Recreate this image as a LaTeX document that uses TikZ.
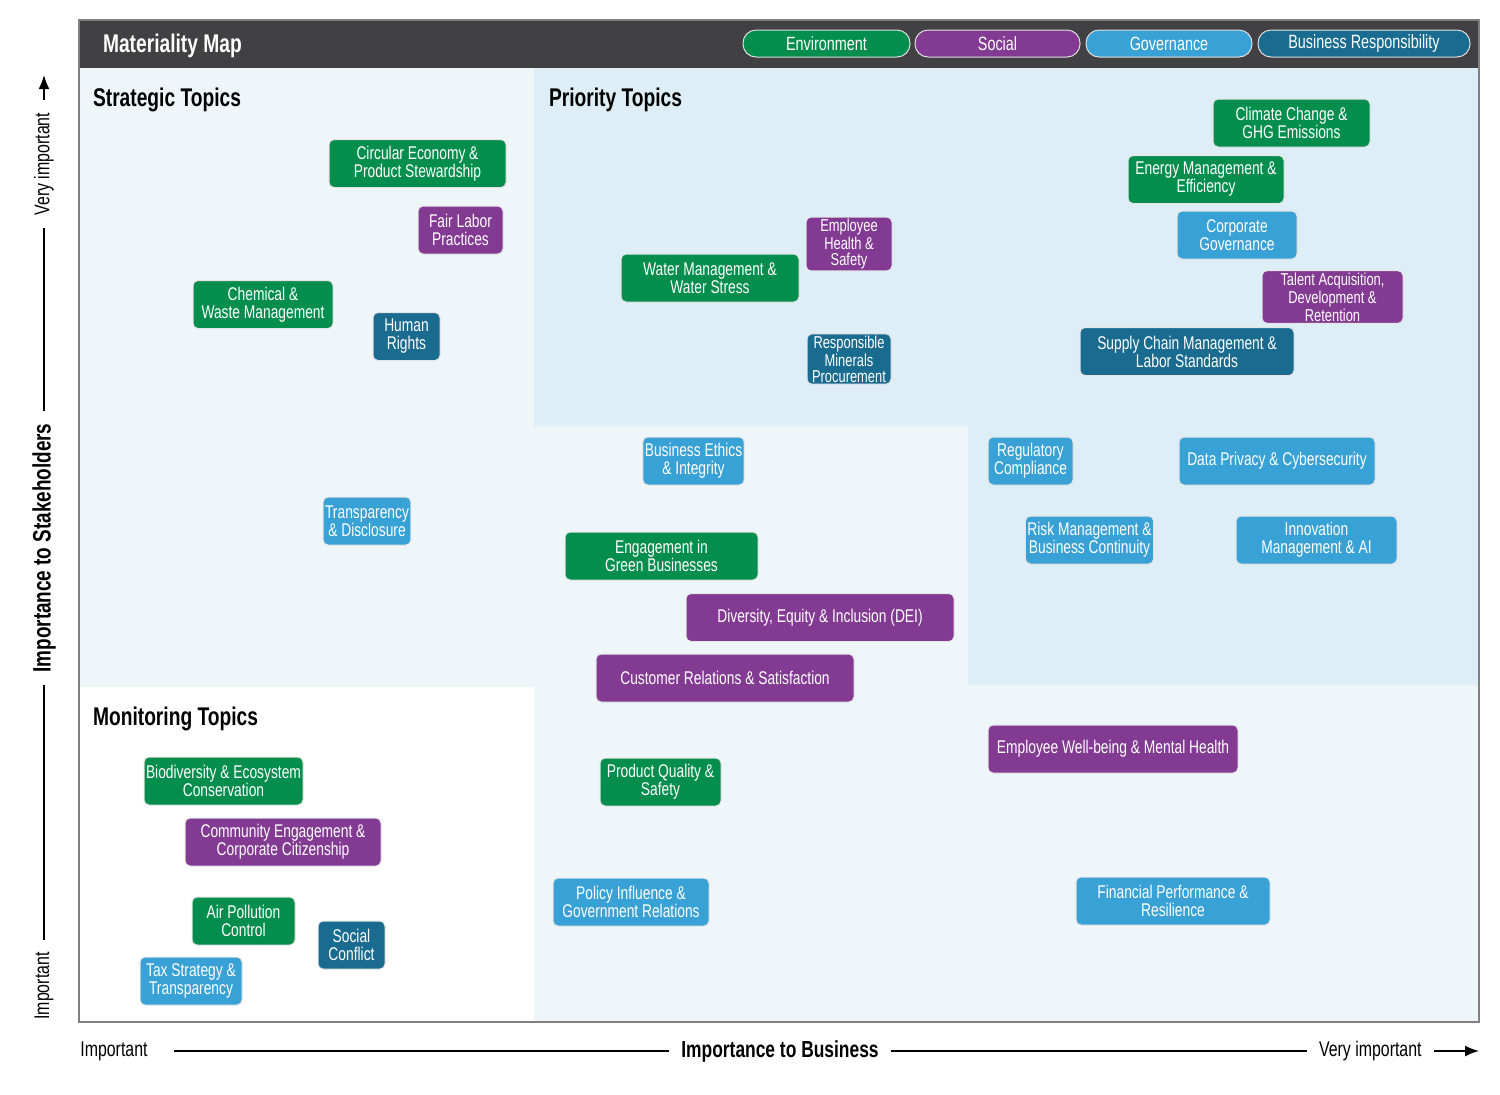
\documentclass[tikz,border=0pt]{standalone}
\usepackage{fontspec}
\setmainfont{Liberation Sans}[FakeStretch=0.75]
\usetikzlibrary{arrows.meta,positioning}
\definecolor{envgreen}{RGB}{3,142,78}
\definecolor{socpurple}{RGB}{131,58,146}
\definecolor{govblue}{RGB}{56,161,213}
\definecolor{busteal}{RGB}{25,107,143}
\definecolor{headgray}{RGB}{65,64,66}
\definecolor{paleblue}{RGB}{238,246,250}
\definecolor{softblue}{RGB}{221,238,246}

\begin{document}
\begin{tikzpicture}[x=0.5pt,y=-0.5pt,
  topic/.style={draw=white!80!gray,line width=0.5pt,rounded corners=2.5pt,text=white,align=center,minimum height=24pt,inner sep=1pt,font=\fontsize{9.2}{9}\selectfont},
  tight/.style={font=\fontsize{8.6}{7.9}\selectfont},
  env/.style={topic,fill=envgreen},
  soc/.style={topic,fill=socpurple},
  gov/.style={topic,fill=govblue},
  bus/.style={topic,fill=busteal},
  pill/.style={draw=white!75!gray,line width=0.5pt,rounded corners=6.5pt,text=white,minimum height=13.5pt,inner sep=1pt,font=\fontsize{9.6}{9.6}\selectfont},
  heading/.style={anchor=west,font=\bfseries\fontsize{12.8}{12.8}\selectfont},
  axislbl/.style={font=\fontsize{10.6}{10.6}\selectfont,inner xsep=6pt},
  >={Latex[length=7pt,width=5.5pt]}]
\useasboundingbox (0,0) rectangle (1500,1094);

% quadrants
\fill[paleblue] (79,68) rectangle (1479,1022);
\fill[white] (79,687) rectangle (534,1022);
\fill[softblue] (534,68) -- (1479,68) -- (1479,685) -- (968,685) -- (968,426) -- (534,426) -- cycle;
\fill[headgray] (79,20) rectangle (1479,68);
\draw[gray,line width=0.6pt] (79,20) rectangle (1479,1022);

% header and legend
\node[heading,text=white] (title) at (96,46) {Materiality Map};
\node[pill,fill=envgreen,minimum width=83.5pt] (lgenv) at (826.5,43.5) {Environment};
\node[pill,fill=socpurple,minimum width=82.5pt] (lgsoc) at (997.5,43.5) {Social};
\node[pill,fill=govblue,minimum width=83pt] (lggov) at (1169,43.5) {Governance};
\node[pill,fill=busteal,minimum width=106pt] (lgbus) at (1364,43.5) {Business Responsibility};

\node[heading] (strat) at (86,100) {Strategic Topics};
\node[heading] (prio) at (542,100) {Priority Topics};
\node[heading] (monit) at (86,719) {Monitoring Topics};

% strategic
\node[env,minimum width=88.5pt] (circ) at (417.5,163.5) {Circular Economy \&\\Product Stewardship};
\node[soc,minimum width=42.5pt] (fair) at (460.5,230) {Fair Labor\\Practices};
\node[env,minimum width=70pt] (chem) at (263,304.5) {Chemical \&\\Waste Management};
\node[bus,minimum width=33.5pt] (hr) at (406.5,336.5) {Human\\Rights};
\node[gov,minimum width=42pt] (transp) at (367,521) {Transparency\\\& Disclosure};

% priority
\node[env,minimum width=78.5pt] (climate) at (1291.5,123) {Climate Change \&\\GHG Emissions};
\node[env,minimum width=78pt] (energy) at (1206,179.5) {Energy Management \&\\Efficiency};
\node[gov,minimum width=60pt] (corpgov) at (1237,235) {Corporate\\Governance};
\node[soc,tight,minimum width=43pt] (ehs) at (849,244) {Employee\\Health \&\\Safety};
\node[env,minimum width=89pt] (water) at (710,278) {Water Management \&\\Water Stress};
\node[soc,tight,minimum width=70.5pt] (talent) at (1332.5,297) {Talent Acquisition,\\Development \&\\Retention};
\node[bus,minimum width=107pt] (supply) at (1187,351.5) {Supply Chain Management \&\\Labor Standards};
\node[bus,tight,minimum width=42pt] (minerals) at (849,359) {Responsible\\Minerals\\Procurement};
\node[gov,minimum width=42.5pt] (regcomp) at (1030.5,461) {Regulatory\\Compliance};
\node[gov,minimum width=98pt] (privacy) at (1277,461) {Data Privacy \& Cybersecurity};
\node[gov,minimum width=58.5pt] (risk) at (1089.5,540) {Risk Management \&\\Business Continuity};
\node[gov,minimum width=80.5pt] (innov) at (1316.5,540) {Innovation\\Management \& AI};

% middle
\node[gov,minimum width=50.5pt] (ethics) at (693.5,461) {Business Ethics\\\& Integrity};
\node[env,minimum width=96.5pt] (greenbiz) at (661.5,556) {Engagement in\\Green Businesses};
\node[soc,minimum width=134pt] (dei) at (820,617.5) {Diversity, Equity \& Inclusion (DEI)};
\node[soc,minimum width=129pt] (cust) at (725,678) {Customer Relations \& Satisfaction};
\node[soc,minimum width=125pt] (wellb) at (1113,749) {Employee Well-being \& Mental Health};
\node[env,minimum width=60.5pt] (quality) at (660.5,782) {Product Quality \&\\Safety};
\node[gov,minimum width=78pt] (policy) at (631,902) {Policy Influence \&\\Government Relations};
\node[gov,minimum width=97pt] (finperf) at (1173,901) {Financial Performance \&\\Resilience};

% monitoring
\node[env,minimum width=79.5pt] (biodiv) at (223.5,781) {Biodiversity \& Ecosystem\\Conservation};
\node[soc,minimum width=98pt] (commun) at (283,842) {Community Engagement \&\\Corporate Citizenship};
\node[env,minimum width=51.5pt] (air) at (243.5,921) {Air Pollution\\Control};
\node[bus,minimum width=33.5pt] (conflict) at (351.5,945) {Social\\Conflict};
\node[gov,minimum width=51pt] (tax) at (191,981) {Tax Strategy \&\\Transparency};

% axes
\node[axislbl,anchor=west,inner xsep=0pt] (ximp) at (80,1051) {Important};
\node[axislbl,font=\bfseries\fontsize{11.6}{11.6}\selectfont] (xlab) at (780,1051) {Importance to Business};
\node[axislbl,anchor=east] (xvi) at (1434,1051) {Very important};
\coordinate (xtip) at (1479,1051);
\draw[line width=0.8pt,shorten <=13pt] (ximp.east) -- (xlab.west);
\draw[line width=0.8pt] (xlab.east) -- (xvi.west);
\draw[->,line width=0.8pt] (xvi.east) -- (xtip);

\node[axislbl,rotate=90] (yvi) at (44,164) {Very important};
\node[axislbl,rotate=90,font=\bfseries\fontsize{12.6}{12.6}\selectfont] (ylab) at (44,548) {Importance to Stakeholders};
\node[axislbl,rotate=90] (yimp) at (44,986) {Important};
\coordinate (ytip) at (44,75);
\draw[->,line width=0.8pt] (yvi.east) -- (ytip);
\draw[line width=0.8pt] (yvi.west) -- (ylab.east);
\draw[line width=0.8pt] (ylab.west) -- (yimp.east);
\end{tikzpicture}
\end{document}
